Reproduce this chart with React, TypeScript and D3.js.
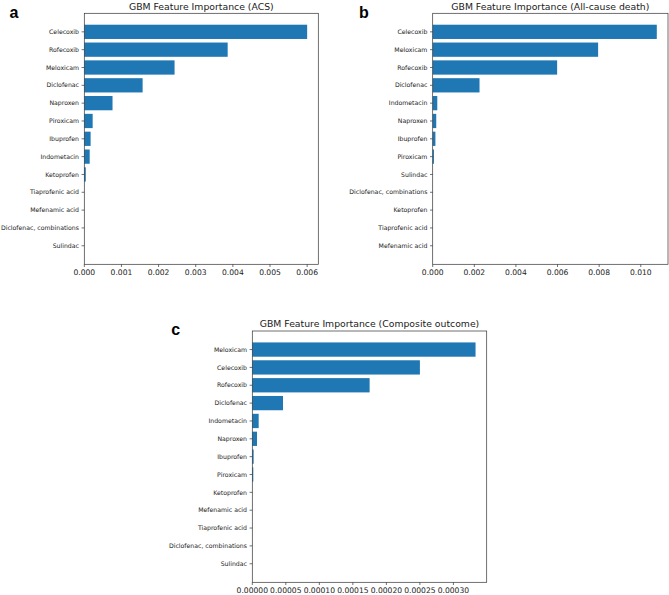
import React from "react";
import * as d3 from "d3";

// ---- Data ----
const acsDrugs = [
  "Celecoxib", "Rofecoxib", "Meloxicam", "Diclofenac", "Naproxen", "Piroxicam",
  "Ibuprofen", "Indometacin", "Ketoprofen", "Tiaprofenic acid", "Mefenamic acid",
  "Diclofenac, combinations", "Sulindac",
];
const acsValues = [0.006, 0.00386, 0.00243, 0.00157, 0.00076, 0.000225, 0.00017, 0.000145, 0.00004, 0, 0, 0, 0];
const acsTicks = [0, 0.001, 0.002, 0.003, 0.004, 0.005, 0.006];

const deathDrugs = [
  "Celecoxib", "Meloxicam", "Rofecoxib", "Diclofenac", "Indometacin", "Naproxen",
  "Ibuprofen", "Piroxicam", "Sulindac", "Diclofenac, combinations", "Ketoprofen",
  "Tiaprofenic acid", "Mefenamic acid",
];
const deathValues = [0.01077, 0.00795, 0.00598, 0.00225, 0.00022, 0.00017, 0.00013, 0.00006, 0, 0, 0, 0, 0];
const deathTicks = [0, 0.002, 0.004, 0.006, 0.008, 0.01];

const compDrugs = [
  "Meloxicam", "Celecoxib", "Rofecoxib", "Diclofenac", "Indometacin", "Naproxen",
  "Ibuprofen", "Piroxicam", "Ketoprofen", "Mefenamic acid", "Tiaprofenic acid",
  "Diclofenac, combinations", "Sulindac",
];
const compValues = [0.000333, 0.00025, 0.000175, 0.0000458, 0.0000095, 0.000007, 0.000002, 0.0000015, 0, 0, 0, 0, 0];
const compTicks = [0, 0.00005, 0.0001, 0.00015, 0.0002, 0.00025, 0.0003];

const BAR_COLOR = "#1f77b4";
const TEXT = "#1a1a1a";
const FONT = "'DejaVu Sans', sans-serif";

type PanelProps = {
  drugs: string[];
  values: number[];
  ticks: number[];
  fmt: string;
  title: string;
  letter: string;
  x0: number; x1: number; y0: number; y1: number;
  titleY: number;
  letterX: number; letterY: number;
};

function Panel(p: PanelProps) {
  const maxV = d3.max(p.values) as number;
  const x = d3.scaleLinear().domain([0, maxV * 1.05]).range([p.x0, p.x1]);
  const n = p.drugs.length;
  const pad = 0.4 + 0.05 * (n - 1 + 0.8);
  const y = d3.scaleLinear().domain([-pad, n - 1 + pad]).range([p.y0, p.y1]);
  const bh = y(0.8) - y(0);
  const f = d3.format(p.fmt);
  const tickLen = 2.7;
  return (
    <g>
      <text x={p.letterX} y={p.letterY} fontFamily="'Liberation Sans', Arial, sans-serif" fontWeight="bold" fontSize={16} fill="#000">{p.letter}</text>
      <text x={(p.x0 + p.x1) / 2} y={p.titleY} textAnchor="middle" fontFamily={FONT} fontSize={9.3} fill={TEXT}>{p.title}</text>
      {p.values.map((v, i) => (
        <rect key={i} x={x(0)} y={y(i) - bh / 2} width={Math.max(0, x(v) - x(0))} height={bh} fill={BAR_COLOR} />
      ))}
      {p.drugs.map((d, i) => (
        <g key={d}>
          <line x1={p.x0 - tickLen} x2={p.x0} y1={y(i)} y2={y(i)} stroke="#333" strokeWidth={0.7} />
          <text x={p.x0 - tickLen - 2.6} y={y(i)} dy="0.35em" textAnchor="end" fontFamily={FONT} fontSize={6.2} fill={TEXT}>{d}</text>
        </g>
      ))}
      {p.ticks.map((t) => (
        <g key={t}>
          <line x1={x(t)} x2={x(t)} y1={p.y1} y2={p.y1 + tickLen} stroke="#333" strokeWidth={0.7} />
          <text x={x(t)} y={p.y1 + 11} textAnchor="middle" fontFamily={FONT} fontSize={7.6} fill={TEXT}>{f(t)}</text>
        </g>
      ))}
      <rect x={p.x0} y={p.y0} width={p.x1 - p.x0} height={p.y1 - p.y0} fill="none" stroke="#333" strokeWidth={0.7} />
    </g>
  );
}

export default function App() {
  return (
    <svg width={669} height={595} style={{ position: "absolute", left: 0, top: 0, background: "#fff" }}>
      <rect width={669} height={595} fill="#fff" />
      <Panel drugs={acsDrugs} values={acsValues} ticks={acsTicks} fmt=".3f"
        title="GBM Feature Importance (ACS)" letter="a"
        x0={84.3} x1={318.3} y0={13.3} y1={264.3} titleY={9.5} letterX={9.5} letterY={17.7} />
      <Panel drugs={deathDrugs} values={deathValues} ticks={deathTicks} fmt=".3f"
        title="GBM Feature Importance (All-cause death)" letter="b"
        x0={432.7} x1={668} y0={13.3} y1={264.3} titleY={9.5} letterX={359} letterY={17.5} />
      <Panel drugs={compDrugs} values={compValues} ticks={compTicks} fmt=".5f"
        title="GBM Feature Importance (Composite outcome)" letter="c"
        x0={252.3} x1={486.7} y0={331} y1={582.3} titleY={326.7} letterX={171.2} letterY={334.5} />
    </svg>
  );
}
